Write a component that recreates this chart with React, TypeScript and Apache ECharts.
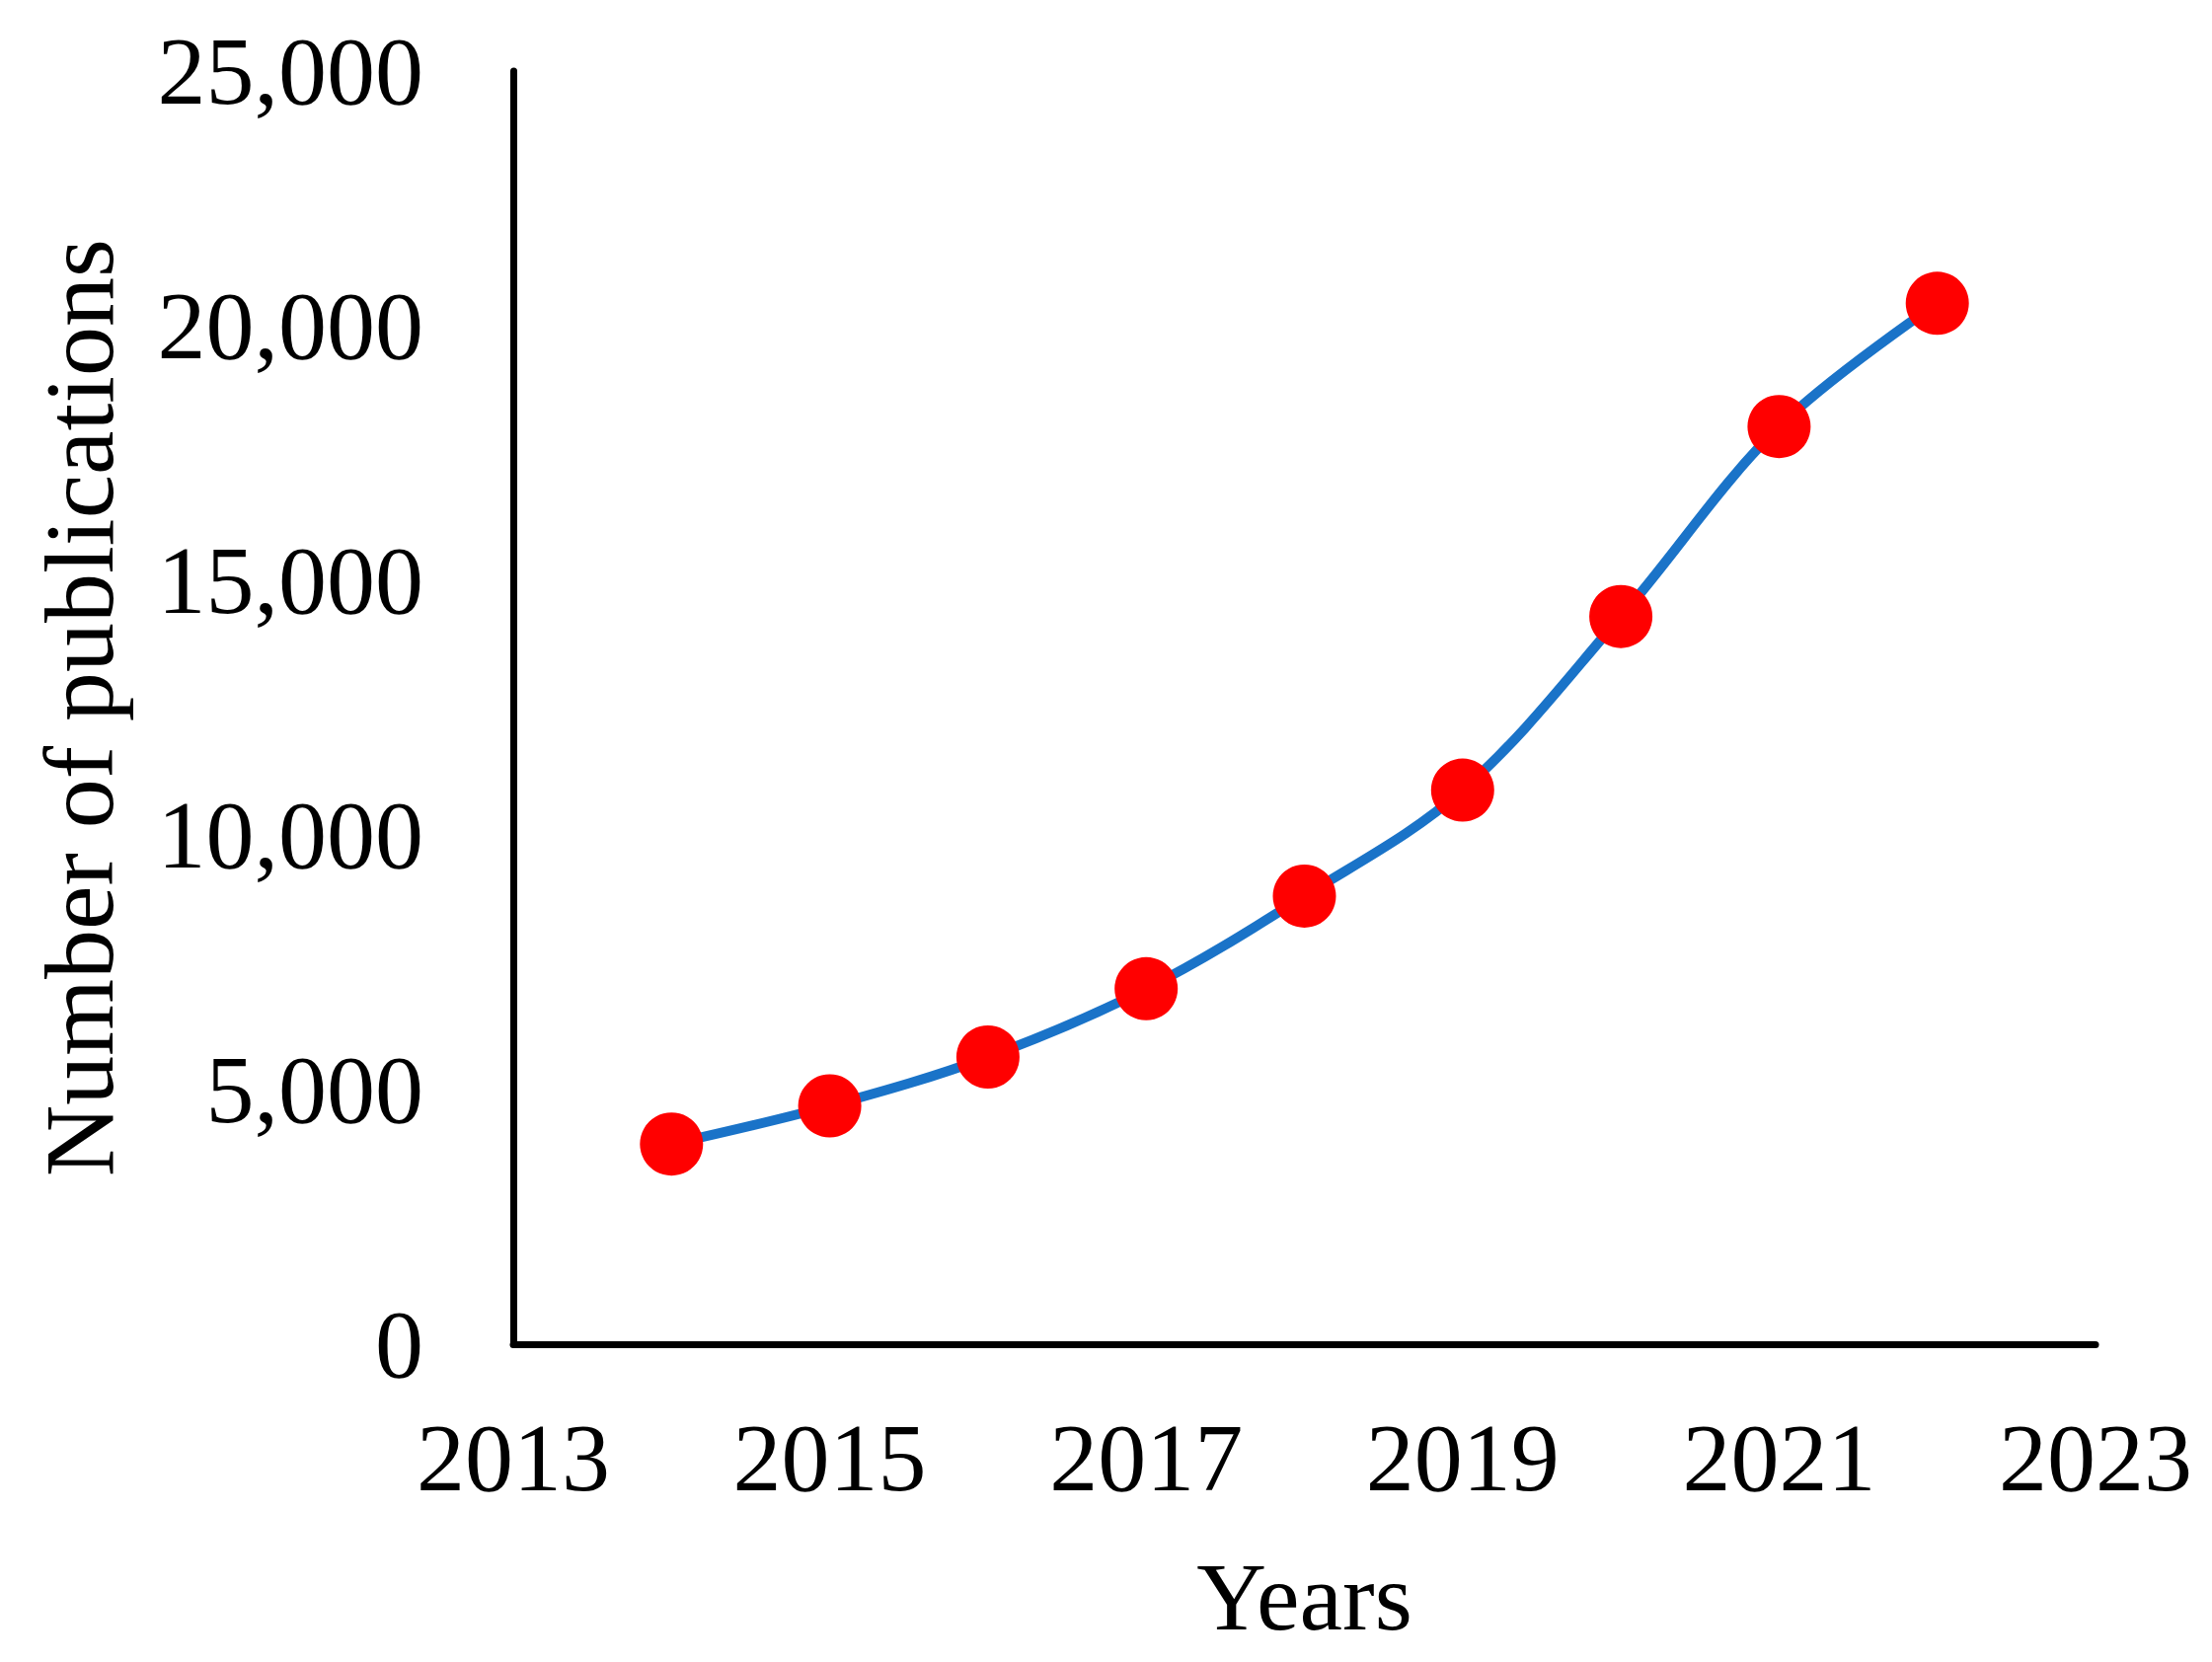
import React, { useEffect, useRef } from "react";
import * as echarts from "echarts";

const years = [2014, 2015, 2016, 2017, 2018, 2019, 2020, 2021, 2022];
const publications = [3930, 4680, 5640, 6980, 8800, 10880, 14290, 18020, 20440];
const xTicks = { min: 2013, max: 2023, interval: 2 };
const yTicks = { min: 0, max: 25000, interval: 5000 };

const FONT = "'Liberation Serif', 'Times New Roman', serif";

export default function App() {
  const ref = useRef<HTMLDivElement>(null);
  useEffect(() => {
    if (!ref.current) return;
    const chart = echarts.init(ref.current, undefined, { renderer: "svg" });
    chart.setOption({
      animation: false,
      backgroundColor: "#ffffff",
      grid: { left: 520, right: 118, top: 72, bottom: 322, containLabel: false },
      xAxis: {
        type: "value",
        min: xTicks.min,
        max: xTicks.max,
        interval: xTicks.interval,
        name: "Years",
        nameLocation: "middle",
        nameGap: 207,
        nameTextStyle: { fontFamily: FONT, fontSize: 98, color: "#000" },
        axisLine: { show: true, lineStyle: { color: "#000", width: 7 } },
        axisTick: { show: false },
        splitLine: { show: false },
        axisLabel: {
          fontFamily: FONT,
          fontSize: 98,
          color: "#000",
          margin: 66,
          formatter: (v: number) => String(v),
        },
      },
      yAxis: {
        type: "value",
        min: yTicks.min,
        max: yTicks.max,
        interval: yTicks.interval,
        name: "Number of publications",
        nameLocation: "middle",
        nameGap: 390,
        nameTextStyle: { fontFamily: FONT, fontSize: 100, color: "#000" },
        axisLine: { show: true, lineStyle: { color: "#000", width: 7 } },
        axisTick: { show: false },
        splitLine: { show: false },
        axisLabel: {
          fontFamily: FONT,
          fontSize: 98,
          color: "#000",
          margin: 91,
          formatter: (v: number) => v.toLocaleString("en-US"),
        },
      },
      series: [
        {
          type: "line",
          data: years.map((y, i) => [y, publications[i]]),
          smooth: 0.35,
          lineStyle: { color: "#1A73C8", width: 10 },
          symbol: "circle",
          symbolSize: 64,
          itemStyle: { color: "#FF0000", borderWidth: 0 },
          z: 3,
        },
      ],
    });
    return () => chart.dispose();
  }, []);
  return (
    <div
      ref={ref}
      style={{ position: "absolute", left: 0, top: 0, width: 2241, height: 1684, background: "#fff" }}
    />
  );
}
